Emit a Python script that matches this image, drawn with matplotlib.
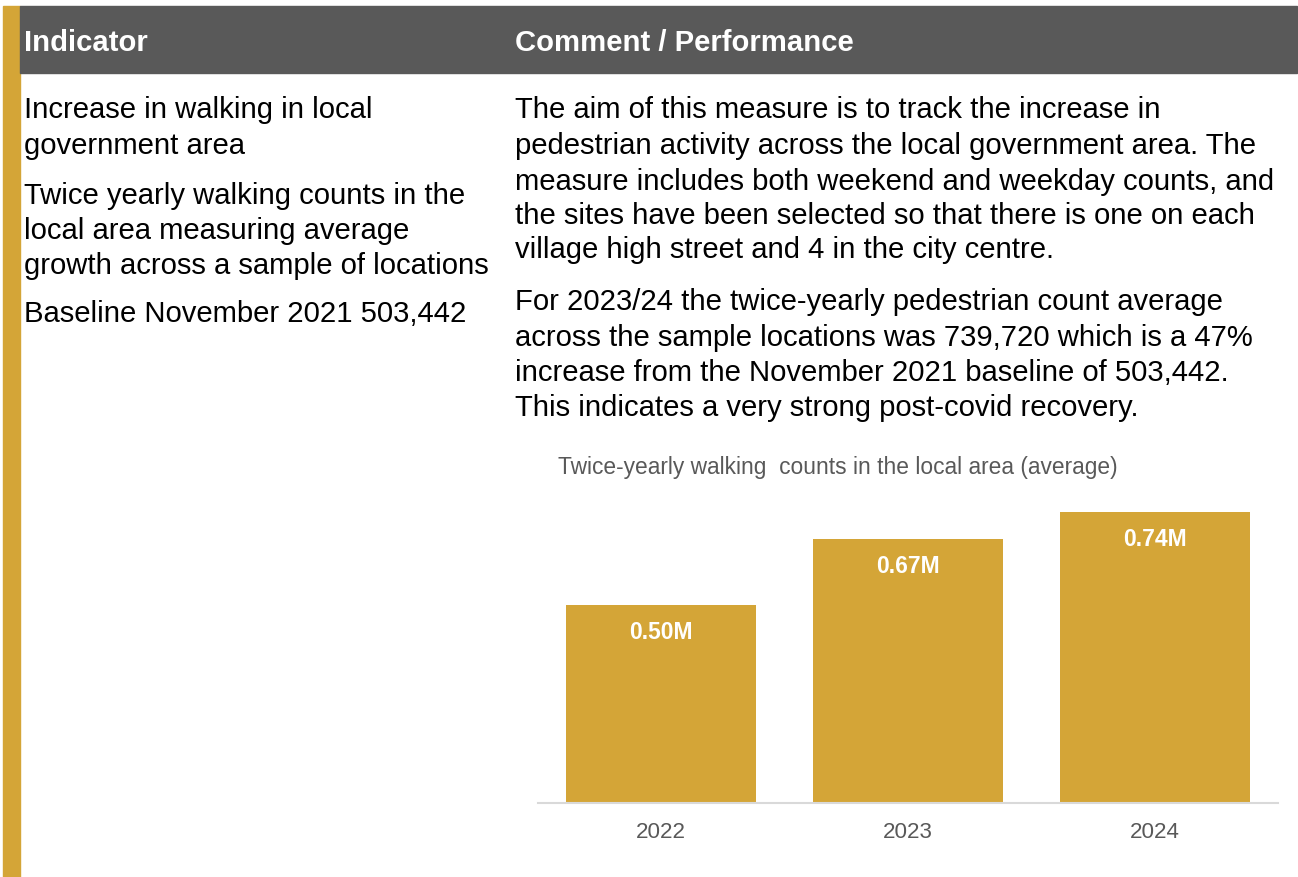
import matplotlib.pyplot as plt
from matplotlib.patches import Rectangle

# ------------------------------ data ------------------------------
years = ['2022', '2023', '2024']
counts = [0.503442, 0.67, 0.739720]   # millions
bar_labels = ['0.50M', '0.67M', '0.74M']

left_lines = [
    'Increase in walking in local',
    'government area',
    'Twice yearly walking counts in the',
    'local area measuring average',
    'growth across a sample of locations',
    'Baseline November 2021 503,442',
]
left_y = [107, 143, 193, 228, 263, 311]

right_lines = [
    'The aim of this measure is to track the increase in',
    'pedestrian activity across the local government area. The',
    'measure includes both weekend and weekday counts, and',
    'the sites have been selected so that there is one on each',
    'village high street and 4 in the city centre.',
    'For 2023/24 the twice-yearly pedestrian count average',
    'across the sample locations was 739,720 which is a 47%',
    'increase from the November 2021 baseline of 503,442.',
    'This indicates a very strong post-covid recovery.',
]
right_y = [107, 143, 179, 213, 247, 299, 335, 370, 405]

gold = '#D4A537'
header_grey = '#595959'
W, H = 1298, 877

plt.rcParams['font.family'] = ['Liberation Sans', 'DejaVu Sans']
fig = plt.figure(figsize=(W / 100, H / 100), dpi=100)


def fx(x):
    return x / W


def fy(y):
    return 1 - y / H


# gold side strip and grey header band
fig.patches.append(Rectangle((fx(3), fy(877)), fx(17), 871 / H, transform=fig.transFigure,
                             color=gold, zorder=0))
fig.patches.append(Rectangle((fx(20), fy(73)), fx(1277), 67 / H, transform=fig.transFigure,
                             color=header_grey, zorder=0))

fs = 21.1
fig.text(fx(24), fy(43), 'Indicator', color='white', fontsize=fs, fontweight='bold', va='center')
fig.text(fx(515), fy(43), 'Comment / Performance', color='white', fontsize=fs,
         fontweight='bold', va='center')

# text block is drawn a few px low of the listed centres to match the baseline
for txt, y in zip(left_lines, left_y):
    fig.text(fx(24), fy(y + 3), txt, color='black', fontsize=fs, va='center')
for txt, y in zip(right_lines, right_y):
    fig.text(fx(515), fy(y + 3), txt, color='black', fontsize=fs, va='center')

# ------------------------------ bar chart ------------------------------
ax = fig.add_axes([fx(538), fy(803), fx(740), (803 - 503.6) / H])
x = range(len(years))
bars = ax.bar(x, counts, width=0.77, color=gold)
ax.set_xlim(-0.5, 2.5)
ax.set_ylim(0, 0.76)
ax.set_xticks(list(x))
ax.set_xticklabels(years, color=header_grey, fontsize=16.1)
ax.tick_params(axis='x', length=0, pad=14)
ax.set_yticks([])
for s in ['top', 'right', 'left']:
    ax.spines[s].set_visible(False)
ax.spines['bottom'].set_color('#D9D9D9')
ax.spines['bottom'].set_linewidth(1.5)

for b, lab in zip(bars, bar_labels):
    ax.annotate(lab, (b.get_x() + b.get_width() / 2, b.get_height()), xytext=(0, -20),
                textcoords='offset points', ha='center', va='center', color='white',
                fontsize=16.5, fontweight='bold')

fig.text(fx(558), fy(467), 'Twice-yearly walking  counts in the local area (average)',
         color=header_grey, fontsize=16.4, va='center')

fig.savefig('out.png', dpi=100)
